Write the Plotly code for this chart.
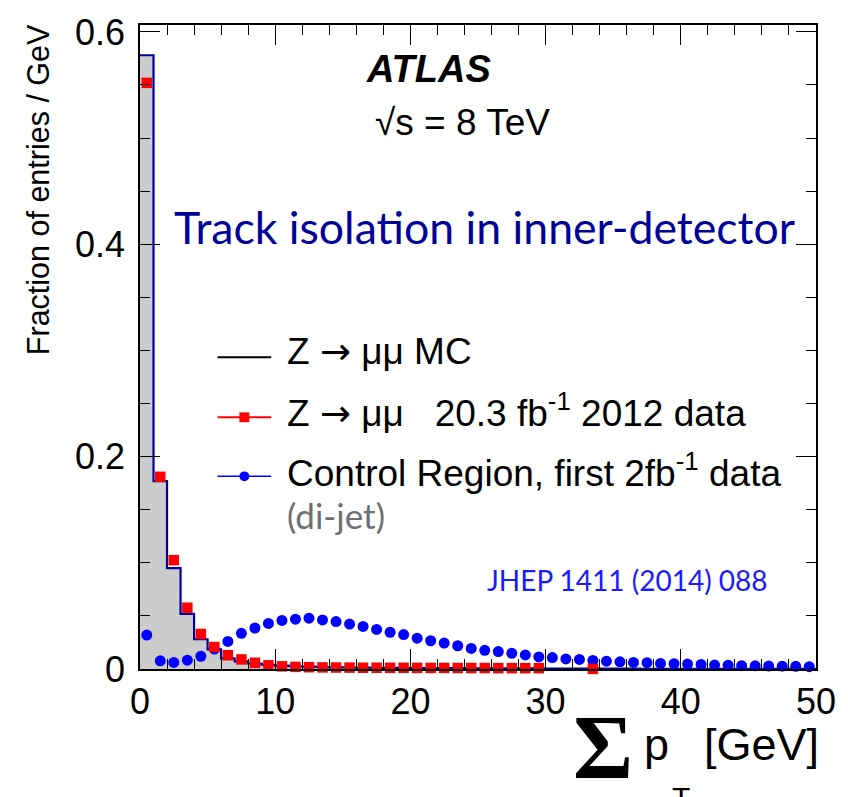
import numpy as np
import plotly.graph_objects as go

# ---------------- data (1 GeV bins from 0 to 50) ----------------
bin_edges = list(range(0, 51))
bin_centers = [e + 0.5 for e in range(0, 50)]

mc_zmumu = [0.578, 0.177, 0.095, 0.052, 0.028, 0.0185, 0.0100, 0.0072, 0.0052, 0.0040,
            0.0032, 0.0026, 0.0022, 0.0019, 0.0016, 0.0014, 0.0013, 0.0012, 0.0011, 0.0010,
            0.0009, 0.0009, 0.0008, 0.0008, 0.0007, 0.0007, 0.0006, 0.0006, 0.0005, 0.0005,
            0.0004, 0.0004, 0.0004, 0.0003, 0.0003, 0.0003, 0.0003, 0.0002, 0.0002, 0.0002,
            0.0002, 0.0002, 0.0001, 0.0001, 0.0001, 0.0001, 0.0001, 0.0001, 0.0001, 0.0001]

data_zmumu = [0.552, 0.181, 0.1025, 0.0577, 0.033, 0.0207, 0.013, 0.009, 0.0059, 0.0035,
              0.0025, 0.0020, 0.0017, 0.0015, 0.0014, 0.0013, 0.0012, 0.0012, 0.0011, 0.0011,
              0.0010, 0.0010, 0.0010, 0.0009, 0.0009, 0.0009, 0.0008, 0.0008, 0.0008, 0.0008,
              None, None, None, 0.0001, None, None, None, None, None, None,
              None, None, None, None, None, None, None, None, None, None]

control_dijet = [0.032, 0.0077, 0.0062, 0.0083, 0.012, 0.0188, 0.026, 0.0336, 0.0386, 0.0429,
                 0.0457, 0.0469, 0.0479, 0.0462, 0.0447, 0.0423, 0.0401, 0.0373, 0.0346, 0.0324,
                 0.0290, 0.0266, 0.0244, 0.0219, 0.0194, 0.0176, 0.0164, 0.0148, 0.0133, 0.0114,
                 0.0108, 0.0095, 0.0090, 0.0080, 0.0074, 0.0068, 0.0062, 0.0060, 0.0052, 0.0050,
                 0.0046, 0.0043, 0.0037, 0.0036, 0.0031, 0.0030, 0.0028, 0.0027, 0.0025, 0.0022]

x_tickvals = [0, 10, 20, 30, 40, 50]
x_ticktext = ["0", "10", "20", "30", "40", "50"]
y_tickvals = [0, 0.2, 0.4, 0.6]
y_ticktext = ["0", "0.2", "0.4", "0.6"]

# ---------------- geometry helpers (layout only) ----------------
W, H = 848, 797
L, R, T, B = 140, 820, 14, 669


def px(xp):
    return (xp - L) / (R - L)


def py(yp):
    return (B - yp) / (B - T)


SANS = "Liberation Sans, Arial, sans-serif"
CAL = "Lato, Carlito, sans-serif"
ARROW = "<span style='font-family:DejaVu Sans'>→</span>"

fig = go.Figure()

# MC histogram (filled step)
fig.add_trace(go.Scatter(
    x=bin_edges, y=mc_zmumu + [mc_zmumu[-1]],
    mode="lines", line=dict(shape="hv", color="#00009a", width=2.2),
    fill="tozeroy", fillcolor="#cccccc", hoverinfo="skip", showlegend=False))

# control region dots
fig.add_trace(go.Scatter(
    x=bin_centers, y=control_dijet, mode="markers",
    marker=dict(symbol="circle", size=11, color="#0000ff"),
    cliponaxis=False, showlegend=False))

# Z->mumu data squares
fig.add_trace(go.Scatter(
    x=bin_centers, y=data_zmumu, mode="markers",
    marker=dict(symbol="square", size=10.5, color="#ff0000"),
    cliponaxis=False, showlegend=False))

axis_common = dict(
    showline=True, linecolor="black", linewidth=1.6, mirror="allticks",
    ticks="inside", ticklen=20, tickwidth=1.4, tickcolor="black",
    showgrid=False, zeroline=False,
    tickfont=dict(family=SANS, size=36, color="black"),
)

fig.update_xaxes(range=[0, 50], tickvals=x_tickvals, ticktext=x_ticktext,
                 minor=dict(ticks="inside", ticklen=10, dtick=2, tickwidth=1.2, tickcolor="black",
                            showgrid=False),
                 **axis_common)
fig.update_yaxes(range=[0, 0.6065], tickvals=y_tickvals, ticktext=y_ticktext,
                 minor=dict(ticks="inside", ticklen=10, dtick=0.05, tickwidth=1.2, tickcolor="black",
                            showgrid=False),
                 ticklabelstandoff=6,
                 **axis_common)

annotations = []


def ann(text, x, y, size, family=SANS, color="black", xanchor="left", yanchor="middle", angle=0):
    annotations.append(dict(text=text, x=px(x), y=py(y), xref="paper", yref="paper",
                            showarrow=False, xanchor=xanchor, yanchor=yanchor, textangle=angle,
                            font=dict(family=family, size=size, color=color)))


ann("<b><i>ATLAS</i></b>", 430, 59, 38, xanchor="center")
ann("√s = 8 TeV", 464, 113, 37, xanchor="center")
ann("Track isolation in inner-detector", 487, 219, 44.6, family=CAL, color="#000099", xanchor="center")
ann("Z " + ARROW + " μμ MC", 286, 346, 37)
ann("Z " + ARROW + " μμ\u00a0\u00a0 20.3 fb<sup>-1</sup> 2012 data", 286, 407, 37)
ann("Control Region, first 2fb<sup>-1</sup> data", 286, 467, 37)
ann("(di-jet)", 286, 512, 35, family=CAL, color="#6f6f6f")
ann("JHEP 1411 (2014) 088", 630, 578, 28, family=CAL, color="#1a1aff", xanchor="center")
ann("Fraction of entries / GeV", 37, 11, 30.5, xanchor="center", yanchor="top", angle=-90)
ann("<b>Σ</b>", 606, 748, 92, family="Liberation Serif, serif", xanchor="center")
ann("p", 645, 746, 45)
ann("T", 673, 800, 30)
ann("[GeV]", 705, 746, 45)

fig.update_layout(annotations=annotations)

# legend samples (decorations)
shapes = []
for yy, col, wd in [(352, "black", 2), (413, "#ff0000", 2), (473, "#0000ff", 1.5)]:
    shapes.append(dict(type="line", xref="paper", yref="paper", x0=px(218), x1=px(272),
                       y0=py(yy), y1=py(yy), line=dict(color=col, width=wd)))
shapes.append(dict(type="rect", xref="paper", yref="paper", x0=px(240), x1=px(250),
                   y0=py(418), y1=py(408), fillcolor="#ff0000", line=dict(width=0)))
shapes.append(dict(type="circle", xref="paper", yref="paper", x0=px(240), x1=px(250),
                   y0=py(478), y1=py(468), fillcolor="#0000ff", line=dict(width=0)))
fig.update_layout(shapes=shapes)

fig.update_layout(
    width=W, height=H,
    margin=dict(l=L, r=W - R, t=T, b=H - B),
    paper_bgcolor="white", plot_bgcolor="white",
    showlegend=False,
)

fig.write_html("out.html")
